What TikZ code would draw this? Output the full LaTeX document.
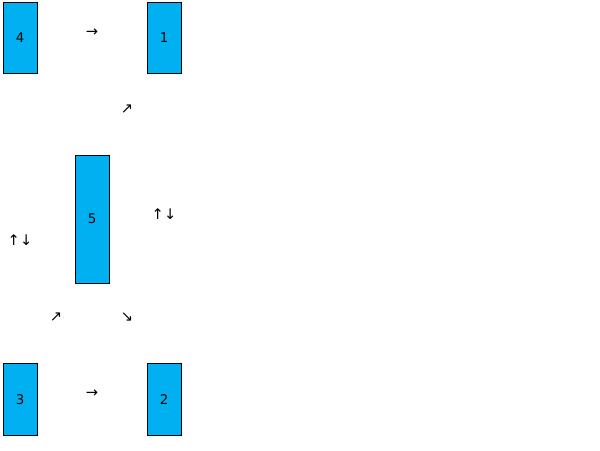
\documentclass[tikz,border=0pt]{standalone}
\usepackage{fontspec}
\setmainfont{DejaVu Sans}
\definecolor{boxblue}{HTML}{00B0F0}
\begin{document}
\begin{tikzpicture}[x=0.75pt,y=-0.75pt,
  blk/.style={draw=black,line width=0.75pt,fill=boxblue,minimum width=25.5pt,inner sep=0pt,font=\fontsize{10}{11}\selectfont},
  arr/.style={inner sep=0pt,font=\fontsize{11}{12}\selectfont}]
\useasboundingbox (0,0) rectangle (600,450);
\node[blk,minimum height=53.25pt] (b4) at (20,38) {4};
\node[blk,minimum height=53.25pt] (b1) at (164,38) {1};
\node[blk,minimum height=96pt] (b5) at (92,219) {5};
\node[blk,minimum height=54pt] (b3) at (20,399.5) {3};
\node[blk,minimum height=54pt] (b2) at (164,399.5) {2};
\node[arr] (a1) at (92,33) {→};
\node[arr] (a2) at (127,109) {↗};
\node[arr] (a3) at (20,240) {↑↓};
\node[arr] (a4) at (164,214) {↑↓};
\node[arr] (a5) at (56,317) {↗};
\node[arr] (a6) at (127,317) {↘};
\node[arr] (a7) at (92,394) {→};
\end{tikzpicture}
\end{document}
